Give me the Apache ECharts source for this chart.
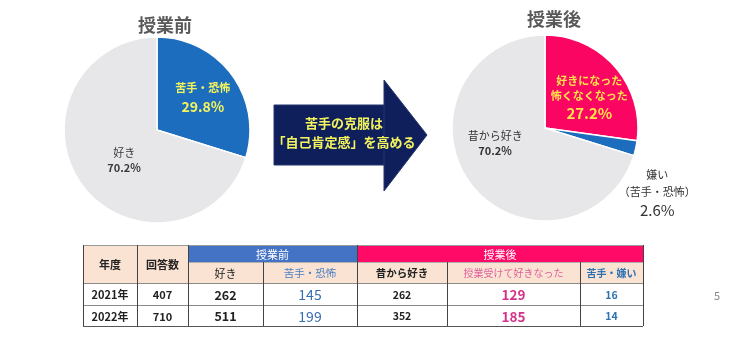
<!DOCTYPE html>
<html>
<head>
<meta charset="utf-8">
<script src="https://cdn.jsdelivr.net/npm/echarts@6/dist/echarts.min.js"></script>
<style>
  html, body { margin: 0; padding: 0; background: #fff; }
  #chart { width: 736px; height: 348px; }
</style>
</head>
<body>
<div id="chart"></div>
<script>
// ---- data ----
const beforeNames = ['苦手・恐怖', '好き'];
const beforeValues = [29.8, 70.2];
const afterNames = ['好きになった\n怖くなくなった', '嫌い\n（苦手・恐怖）', '昔から好き'];
const afterValues = [27.2, 2.6, 70.2];

const tableYears = ['2021年', '2022年'];
const tableResponses = [407, 710];
const tableBeforeLike = [262, 511];
const tableBeforeDislike = [145, 199];
const tableAfterAlreadyLike = [262, 352];
const tableAfterBecameLike = [129, 185];
const tableAfterDislike = [16, 14];

const arrowText = '苦手の克服は\n「自己肯定感」を高める';
const pageNumber = '5';

// ---- styles ----
const FONT = '"Noto Sans CJK JP", "Noto Sans", sans-serif';
const BLUE = '#1c6dbd';
const GRAY = '#e7e7e9';
const PINK = '#fa0561';
const NAVY = '#0f1f5c';

const beforeColors = [BLUE, GRAY];
const afterColors = [PINK, BLUE, GRAY];

const beforeLabelStyles = [
  { n: { color: '#f4f45c', fontSize: 11, fontWeight: 'bold', lineHeight: 19 },
    v: { color: '#f4f45c', fontSize: 14, fontWeight: 'bold', lineHeight: 20 } },
  { n: { color: '#3a3a3a', fontSize: 11, lineHeight: 15 },
    v: { color: '#3a3a3a', fontSize: 11, fontWeight: 'bold', lineHeight: 15 } }
];
const afterLabelStyles = [
  { n: { color: '#ffe24a', fontSize: 11, fontWeight: 'bold', lineHeight: 15 },
    v: { color: '#ffe24a', fontSize: 15, fontWeight: 'bold', lineHeight: 20 } },
  { n: { color: '#333', fontSize: 11, lineHeight: 17 },
    v: { color: '#333', fontSize: 15, lineHeight: 19 } },
  { n: { color: '#333', fontSize: 11, lineHeight: 15 },
    v: { color: '#333', fontSize: 11, fontWeight: 'bold', lineHeight: 15 } }
];
const beforeLabelShift = [{ dx: 6, dy: -3 }, { dx: 7, dy: 1 }];
const afterLabelShift = [{ dx: 7, dy: 3 }, { dx: 64, dy: 54 }, { dx: -10, dy: -14 }];

function pieData(names, values, colors, labelStyles) {
  return names.map((name, i) => ({
    name: name,
    value: values[i],
    itemStyle: { color: colors[i] },
    label: {
      position: 'inside',
      formatter: p => p.name.split('\n').map(s => '{n|' + s + '}').join('\n') + '\n{v|' + p.value.toFixed(1) + '%}',
      rich: labelStyles[i]
    }
  }));
}

// ---- table layout ----
const colX = [83, 137, 188, 263, 357, 447, 580, 643];
const rowY = [245, 262, 283, 305, 326];
const PEACH = '#fbe3d3';
const HEAD_BLUE = '#4472c4';
const HEAD_PINK = '#ff0a66';

const tableEls = [];
function cell(x0, x1, y0, y1, fill, text, textStyle) {
  tableEls.push({
    type: 'rect', silent: true,
    shape: { x: colX[x0], y: rowY[y0], width: colX[x1] - colX[x0], height: rowY[y1] - rowY[y0] },
    style: { fill: fill, stroke: null }
  });
  if (text !== undefined) {
    tableEls.push({
      type: 'text', silent: true,
      x: (colX[x0] + colX[x1]) / 2, y: (rowY[y0] + rowY[y1]) / 2 + 1,
      style: Object.assign({ text: String(text), align: 'center', verticalAlign: 'middle',
        fontFamily: FONT, fontSize: 11, fill: '#222', fontWeight: 'bold' }, textStyle || {})
    });
  }
}
// header cells
cell(0, 1, 0, 2, PEACH, '年度');
cell(1, 2, 0, 2, PEACH, '回答数');
cell(2, 4, 0, 1, HEAD_BLUE, '授業前', { fill: '#fff', fontWeight: 'normal', fontSize: 11 });
cell(4, 7, 0, 1, HEAD_PINK, '授業後', { fill: '#fff', fontWeight: 'normal', fontSize: 11 });
cell(2, 3, 1, 2, PEACH, '好き', { fontWeight: 'normal', fontSize: 11 });
cell(3, 4, 1, 2, PEACH, '苦手・恐怖', { fill: '#4a7fc2', fontWeight: 'normal', fontSize: 10.5 });
cell(4, 5, 1, 2, PEACH, '昔から好き', { fontSize: 10.5 });
cell(5, 6, 1, 2, PEACH, '授業受けて好きなった', { fill: '#e0609c', fontWeight: 'normal', fontSize: 10 });
cell(6, 7, 1, 2, PEACH, '苦手・嫌い', { fill: '#2e72b4', fontSize: 10 });
// data rows
tableYears.forEach((yr, r) => {
  const y0 = 2 + r, y1 = 3 + r;
  cell(0, 1, y0, y1, '#fff', yr);
  cell(1, 2, y0, y1, '#fff', tableResponses[r]);
  cell(2, 3, y0, y1, '#fff', tableBeforeLike[r], { fontSize: 12.5 });
  cell(3, 4, y0, y1, '#fff', tableBeforeDislike[r], { fill: '#3a6db0', fontSize: 14, fontWeight: 'normal' });
  cell(4, 5, y0, y1, '#fff', tableAfterAlreadyLike[r], { fontSize: 10.5 });
  cell(5, 6, y0, y1, '#fff', tableAfterBecameLike[r], { fill: '#d4328a', fontSize: 13.5 });
  cell(6, 7, y0, y1, '#fff', tableAfterDislike[r], { fill: '#2e72b4', fontSize: 10.5 });
});
// grid lines
function line(x1, y1, x2, y2, color) {
  tableEls.push({ type: 'line', silent: true, shape: { x1, y1, x2, y2 },
    style: { stroke: color, lineWidth: 1 } });
}
line(colX[0], rowY[0] + 0.5, colX[7], rowY[0] + 0.5, '#9a9a9a');
line(colX[2], rowY[1] + 0.5, colX[7], rowY[1] + 0.5, '#b0b0b0');
line(colX[0], rowY[2] + 0.5, colX[7], rowY[2] + 0.5, '#8a8a8a');
line(colX[0], rowY[3] + 0.5, colX[7], rowY[3] + 0.5, '#8a8a8a');
line(colX[0], rowY[4] + 0.5, colX[7], rowY[4] + 0.5, '#555');
[0, 1, 2, 4, 7].forEach(i => line(colX[i] + 0.5, rowY[0], colX[i] + 0.5, rowY[4], '#444'));
[3, 5, 6].forEach(i => line(colX[i] + 0.5, rowY[1], colX[i] + 0.5, rowY[4], '#444'));

const chart = echarts.init(document.getElementById('chart'), null, { renderer: 'canvas' });
chart.setOption({
  backgroundColor: '#fff',
  animation: false,
  title: [
    { text: '授業前', left: 160, top: 11, textAlign: 'center',
      textStyle: { fontFamily: FONT, fontSize: 18, fontWeight: 'bold', color: '#595959' } },
    { text: '授業後', left: 549, top: 5, textAlign: 'center',
      textStyle: { fontFamily: FONT, fontSize: 18, fontWeight: 'bold', color: '#595959' } }
  ],
  series: [
    {
      type: 'pie', center: [157, 130], radius: 93, startAngle: 90, clockwise: true,
      avoidLabelOverlap: false, silent: true,
      itemStyle: { borderColor: '#fff', borderWidth: 1.5 },
      labelLine: { show: false },
      labelLayout: p => beforeLabelShift[p.dataIndex],
      label: { fontFamily: FONT },
      data: pieData(beforeNames, beforeValues, beforeColors, beforeLabelStyles)
    },
    {
      type: 'pie', center: [545, 128], radius: 93, startAngle: 90, clockwise: true,
      avoidLabelOverlap: false, silent: true,
      itemStyle: { borderColor: '#fff', borderWidth: 1.5 },
      labelLine: { show: false },
      labelLayout: p => afterLabelShift[p.dataIndex],
      label: { fontFamily: FONT },
      data: pieData(afterNames, afterValues, afterColors, afterLabelStyles)
    }
  ],
  graphic: [
    // arrow body + head
    { type: 'rect', silent: true, shape: { x: 274, y: 105, width: 111, height: 60 },
      style: { fill: NAVY, stroke: '#24346e', lineWidth: 1 } },
    { type: 'polygon', silent: true, shape: { points: [[384, 80], [427, 135], [384, 191]] },
      style: { fill: NAVY, stroke: '#24346e', lineWidth: 1 } },
    { type: 'text', silent: true, x: 344, y: 133,
      style: { text: arrowText, align: 'center', verticalAlign: 'middle', fontFamily: FONT,
        fontSize: 13, fontWeight: 'bold', lineHeight: 19, fill: '#f4f45c' } },
    { type: 'text', silent: true, x: 717, y: 296,
      style: { text: pageNumber, align: 'center', verticalAlign: 'middle', fontFamily: FONT,
        fontSize: 11, fill: '#8a8a8a' } }
  ].concat(tableEls)
});
</script>
</body>
</html>
